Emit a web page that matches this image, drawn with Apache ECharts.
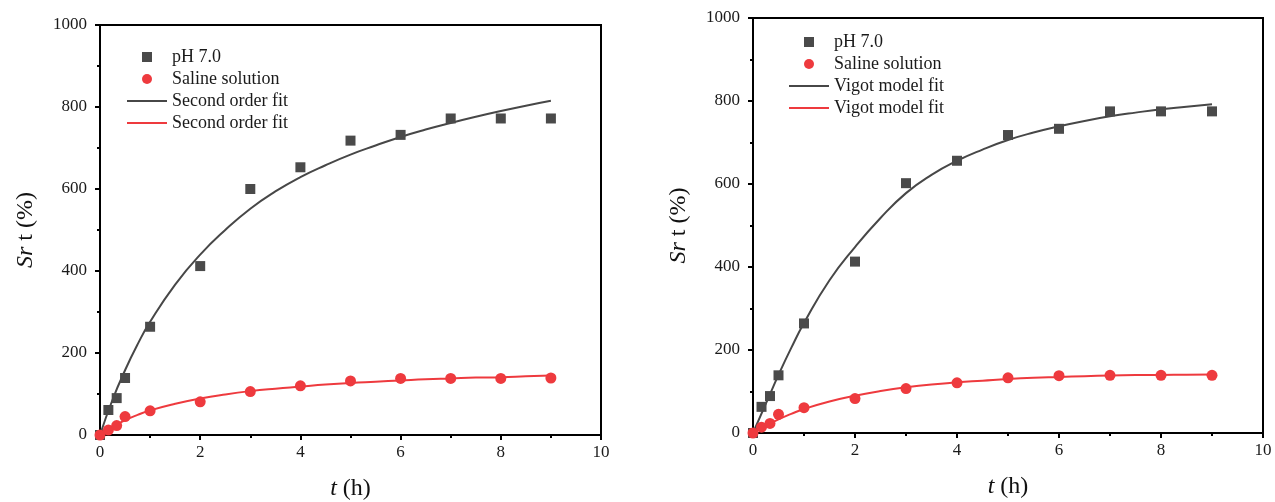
<!DOCTYPE html>
<html>
<head>
<meta charset="utf-8">
<script src="https://cdn.jsdelivr.net/npm/echarts@6/dist/echarts.min.js"></script>
<style>
html,body{margin:0;padding:0;background:#fff;}
#chart{width:1275px;height:502px;}
</style>
</head>
<body>
<div id="chart"></div>
<script>
// ---- data ----
var times = [0, 0.167, 0.333, 0.5, 1, 2, 3, 4, 5, 6, 7, 8, 9];
var leftPH = [0, 61, 90, 139, 264, 412, 600, 653, 718, 732, 772, 772, 772];
var leftSaline = [0, 12, 23, 45, 59, 81, 106, 120, 132, 138, 138, 138, 139];
var rightPH = [0, 63, 89, 139, 264, 413, 602, 656, 718, 733, 775, 775, 775];
var rightSaline = [0, 14, 23, 45, 61, 83, 107, 121, 133, 138, 139, 139, 139];

var fitTimes = [0, 0.25, 0.5, 0.75, 1, 1.5, 2, 2.5, 3, 3.5, 4, 4.5, 5, 5.5, 6, 6.5, 7, 7.5, 8, 8.5, 9];
var leftFitPH = [0, 86, 158, 221, 276, 367, 440, 500, 552, 594, 629, 658, 684, 706, 727, 745, 761, 776, 790, 803, 815];
var leftFitSaline = [0, 20, 36, 49, 60, 76, 89, 99, 107, 113, 118, 123, 127, 130, 133, 136, 138, 140, 141, 143, 145];
var rightFitPH = [0, 70, 140, 205, 265, 368, 448, 518, 578, 622, 656, 683, 706, 724, 739, 752, 763, 772, 780, 786, 792];
var rightFitSaline = [0, 17, 33, 46, 58, 76, 90, 101, 110, 117, 122, 126, 130, 133, 135, 137, 138.5, 139.5, 140, 140.5, 141];

var xTicks = [0, 2, 4, 6, 8, 10];
var yTicks = [0, 200, 400, 600, 800, 1000];
var legendLeft = ['pH 7.0', 'Saline solution', 'Second order fit', 'Second order fit'];
var legendRight = ['pH 7.0', 'Saline solution', 'Vigot model fit', 'Vigot model fit'];

// ---- helpers ----
function pairs(xs, ys) { return xs.map(function (x, i) { return [x, ys[i]]; }); }
var FONT = 'Liberation Serif';
var GRAY = '#474747';
var SQ = '#4a4a4a';
var RED = '#ee3a3e';

function xAxisCfg(gi) {
  return {
    type: 'value', gridIndex: gi, min: xTicks[0], max: xTicks[xTicks.length - 1], interval: 2,
    name: '{i|t} (h)', nameLocation: 'middle', nameGap: 42,
    nameTextStyle: { fontFamily: FONT, fontSize: 24, color: '#111',
      rich: { i: { fontFamily: FONT, fontSize: 24, fontStyle: 'italic', color: '#111' } } },
    axisLine: { show: true, onZero: false, lineStyle: { color: '#000', width: 2 } },
    axisTick: { show: true, inside: false, length: 5, lineStyle: { color: '#000', width: 2 } },
    minorTick: { show: true, splitNumber: 2, length: 3, lineStyle: { color: '#000', width: 2 } },
    axisLabel: { fontFamily: FONT, fontSize: 17, color: '#1a1a1a', margin: 9,
      formatter: function (v) { return String(v); } },
    splitLine: { show: false }
  };
}
function yAxisCfg(gi) {
  return {
    type: 'value', gridIndex: gi, min: yTicks[0], max: yTicks[yTicks.length - 1], interval: 200,
    name: '{i|Sr} t (%)', nameLocation: 'middle', nameGap: 62, nameRotate: 90,
    nameTextStyle: { fontFamily: FONT, fontSize: 24, color: '#111',
      rich: { i: { fontFamily: FONT, fontSize: 24, fontStyle: 'italic', color: '#111' } } },
    axisLine: { show: true, onZero: false, lineStyle: { color: '#000', width: 2 } },
    axisTick: { show: true, inside: false, length: 5, lineStyle: { color: '#000', width: 2 } },
    minorTick: { show: true, splitNumber: 2, length: 3, lineStyle: { color: '#000', width: 2 } },
    axisLabel: { fontFamily: FONT, fontSize: 17, color: '#1a1a1a', margin: 13,
      formatter: function (v) { return String(v); } },
    splitLine: { show: false }
  };
}
function legendCfg(ids, labels, left, top, lineColors) {
  var map = {};
  ids.forEach(function (id, i) { map[id] = labels[i]; });
  var hidden = { color: 'rgba(0,0,0,0)', borderWidth: 0, opacity: 0 };
  return {
    orient: 'vertical', left: left, top: top, padding: 0, itemWidth: 40, itemHeight: 10, itemGap: 4,
    selectedMode: false, symbolKeepAspect: true,
    data: [
      { name: ids[0], icon: 'path://M0,0 L10,0 L10,10 L0,10 Z', itemStyle: { color: SQ } },
      { name: ids[1], icon: 'circle', itemStyle: { color: RED } },
      { name: ids[2], itemStyle: hidden, lineStyle: { color: lineColors[0], width: 2 } },
      { name: ids[3], itemStyle: hidden, lineStyle: { color: lineColors[1], width: 2 } }
    ],
    formatter: function (n) { return map[n]; },
    textStyle: { fontFamily: FONT, fontSize: 18, color: '#1a1a1a', padding: [0, 0, 0, 0] }
  };
}
function scatter(id, gi, ys, sym, color, size) {
  return { name: id, type: 'scatter', xAxisIndex: gi, yAxisIndex: gi, data: pairs(times, ys),
    symbol: sym, symbolSize: size, itemStyle: { color: color, opacity: 1 }, z: 3 };
}
function fitLine(id, gi, ys, color) {
  return { name: id, type: 'line', xAxisIndex: gi, yAxisIndex: gi, data: pairs(fitTimes, ys),
    smooth: true, symbol: 'none', lineStyle: { color: color, width: 2 }, itemStyle: { color: color }, z: 2 };
}

var chart = echarts.init(document.getElementById('chart'), null, { renderer: 'canvas' });
chart.setOption({
  backgroundColor: '#fff',
  animation: false,
  grid: [
    { left: 100, right: 674, top: 25, bottom: 67, outerBoundsMode: 'none', containLabel: false,
      show: true, borderColor: '#000', borderWidth: 2, backgroundColor: 'transparent' },
    { left: 753, right: 12, top: 18, bottom: 69, outerBoundsMode: 'none', containLabel: false,
      show: true, borderColor: '#000', borderWidth: 2, backgroundColor: 'transparent' }
  ],
  legend: [
    legendCfg(['L_ph', 'L_sal', 'L_fit1', 'L_fit2'], legendLeft, 126, 48, [GRAY, RED]),
    legendCfg(['R_ph', 'R_sal', 'R_fit1', 'R_fit2'], legendRight, 788, 33, [GRAY, RED])
  ],
  xAxis: [xAxisCfg(0), xAxisCfg(1)],
  yAxis: [yAxisCfg(0), yAxisCfg(1)],
  series: [
    scatter('L_ph', 0, leftPH, 'rect', SQ, 10),
    scatter('L_sal', 0, leftSaline, 'circle', RED, 11),
    fitLine('L_fit1', 0, leftFitPH, GRAY),
    fitLine('L_fit2', 0, leftFitSaline, RED),
    scatter('R_ph', 1, rightPH, 'rect', SQ, 10),
    scatter('R_sal', 1, rightSaline, 'circle', RED, 11),
    fitLine('R_fit1', 1, rightFitPH, GRAY),
    fitLine('R_fit2', 1, rightFitSaline, RED)
  ]
});
</script>
</body>
</html>
